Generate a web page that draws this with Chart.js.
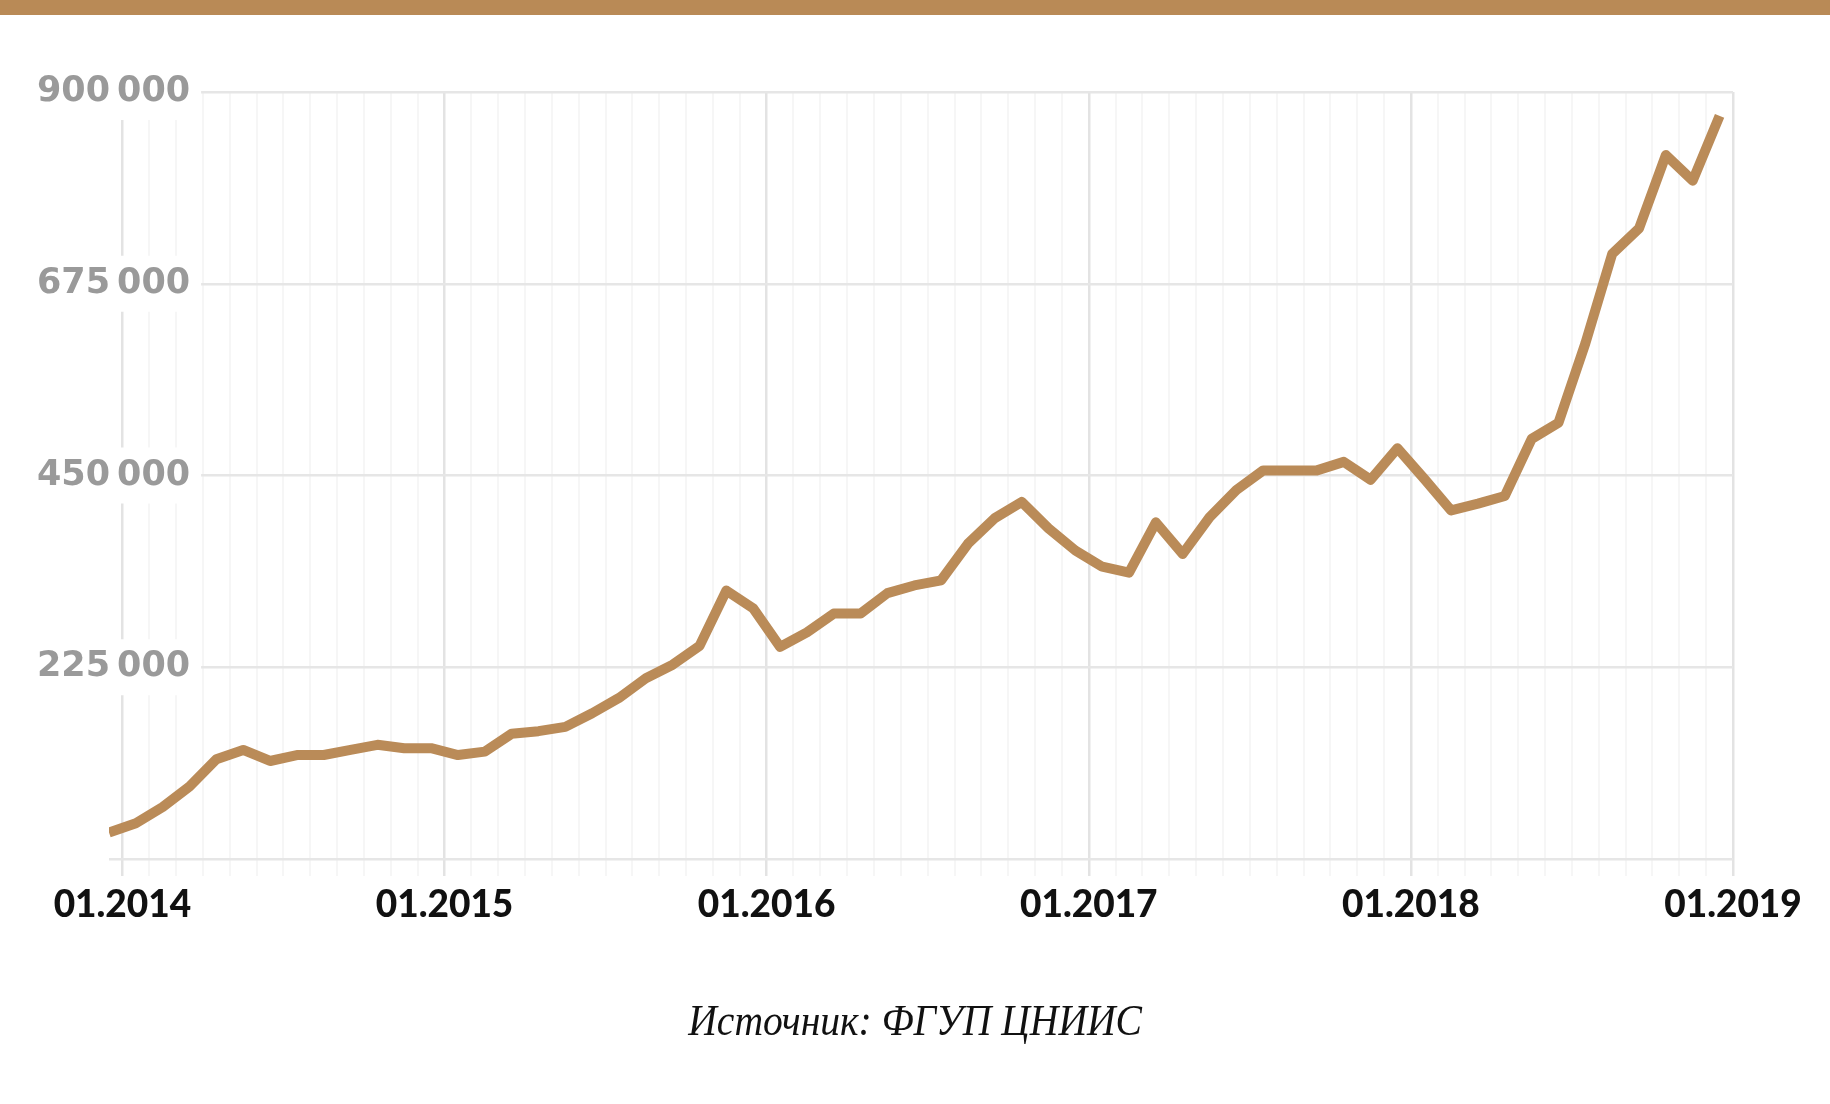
<!DOCTYPE html>
<html><head><meta charset="utf-8">
<script src="https://cdn.jsdelivr.net/npm/chart.js@4.4.1/dist/chart.umd.min.js"></script>
<style>
html,body{margin:0;padding:0;background:#fff;width:1830px;height:1104px;overflow:hidden;}
#wrap{position:absolute;left:0;top:0;width:1830px;height:1104px;}
#bar{position:absolute;left:0;top:0;width:1830px;height:15px;background:#b98a56;}
#src{position:absolute;left:0;width:1830px;top:999px;line-height:44px;text-align:center;font-family:"Liberation Serif",serif;font-style:italic;font-size:44px;color:#111;}
#src span{display:inline-block;transform:scaleX(0.9);}
</style></head>
<body>
<div id="wrap"><canvas id="c" width="1830" height="1104"></canvas></div>
<div id="bar"></div>
<div id="src"><span>Источник: ФГУП ЦНИИС</span></div>
<script>
// monthly categories (points sit mid-month)
const months = [
 '12.2013',
 '01.2014','02.2014','03.2014','04.2014','05.2014','06.2014','07.2014','08.2014','09.2014','10.2014','11.2014','12.2014',
 '01.2015','02.2015','03.2015','04.2015','05.2015','06.2015','07.2015','08.2015','09.2015','10.2015','11.2015','12.2015',
 '01.2016','02.2016','03.2016','04.2016','05.2016','06.2016','07.2016','08.2016','09.2016','10.2016','11.2016','12.2016',
 '01.2017','02.2017','03.2017','04.2017','05.2017','06.2017','07.2017','08.2017','09.2017','10.2017','11.2017','12.2017',
 '01.2018','02.2018','03.2018','04.2018','05.2018','06.2018','07.2018','08.2018','09.2018','10.2018','11.2018','12.2018'
];
const values = [
 31000,
 42000, 61000, 85000, 117000, 128000, 115000, 122000, 122000, 128000, 134000, 130000, 130000,
 122000, 126000, 147000, 150000, 155000, 171000, 189000, 212000, 228000, 250000, 315000, 294000,
 249000, 266000, 288000, 288000, 312000, 321000, 327000, 370000, 400000, 419000, 388000, 362000,
 343000, 336000, 395000, 358000, 401000, 433000, 456000, 456000, 456000, 466000, 445000, 482000,
 446000, 409000, 417000, 426000, 493000, 512000, 605000, 710000, 740000, 826000, 796000, 872000
];
const xTickLabels = ['01.2014','01.2015','01.2016','01.2017','01.2018','01.2019'];
const yTickValues = [0, 225000, 450000, 675000, 900000];
const yTickLabels = ['', '225\u202F000', '450\u202F000', '675\u202F000', '900\u202F000'];

const points = values.map((v, i) => ({x: i - 0.5, y: v}));
const isMajor = c => c.tick && c.tick.value % 12 === 0;

new Chart(document.getElementById('c'), {
  type: 'line',
  data: {datasets: [{
    data: points,
    borderColor: '#ba8b58',
    borderWidth: 10,
    pointRadius: 0,
    tension: 0,
    fill: false,
    borderJoinStyle: 'round',
    borderCapStyle: 'butt'
  }]},
  options: {
    responsive: false,
    animation: false,
    events: [],
    layout: {padding: {left: 0, right: 97, top: 92, bottom: 155}},
    plugins: {legend: {display: false}, tooltip: {enabled: false}},
    scales: {
      x: {
        type: 'linear', min: -0.5, max: 60,
        afterBuildTicks: s => { s.ticks = months.map((m, i) => ({value: i})); },
        afterFit: s => { s.height = 90; },
        border: {display: false},
        grid: {
          color: c => isMajor(c) ? '#e3e3e3' : '#f6f6f6',
          tickColor: c => isMajor(c) ? '#e3e3e3' : '#f6f6f6',
          lineWidth: c => isMajor(c) ? 2.5 : 2,
          drawTicks: true,
          tickLength: 17
        },
        ticks: {
          autoSkip: false, maxRotation: 0, minRotation: 0, padding: 7,
          color: '#111',
          font: {family: 'Lato', weight: '900', size: 37},
          callback: v => (v % 12 === 0) ? xTickLabels[v / 12] : ''
        }
      },
      y: {
        type: 'linear', min: 0, max: 900000,
        afterBuildTicks: s => { s.ticks = yTickValues.map(v => ({value: v})); },
        afterFit: s => { s.width = 109; },
        border: {display: false},
        grid: {color: '#e6e6e6', lineWidth: 2.5, drawTicks: false},
        ticks: {
          mirror: true,
          crossAlign: 'far',
          padding: -72,
          color: '#9a9a9a',
          font: {family: 'DejaVu Sans', weight: 'bold', size: 35},
          showLabelBackdrop: c => c.tick && c.tick.value !== 0,
          backdropColor: '#ffffff',
          backdropPadding: {top: 7, bottom: 7, left: 12, right: 11},
          callback: v => yTickLabels[yTickValues.indexOf(v)]
        }
      }
    }
  }
});
</script>
</body></html>
